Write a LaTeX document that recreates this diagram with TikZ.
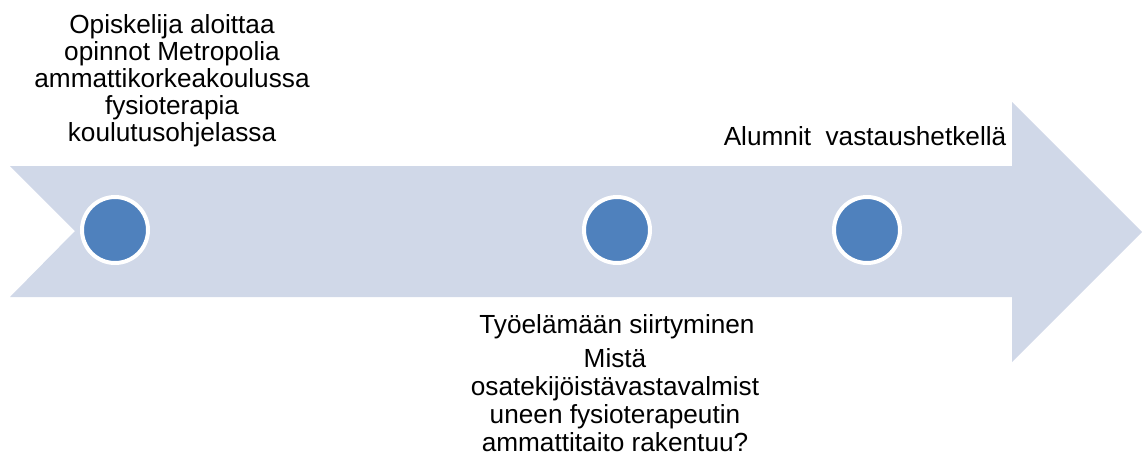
\documentclass[tikz,border=0pt]{standalone}
\usepackage{fontspec}
\setmainfont{Liberation Sans}
\definecolor{arrowfill}{HTML}{D0D8E8}
\definecolor{dotblue}{HTML}{4F81BD}
\tikzset{
  dot/.style={circle, fill=dotblue, draw=white, line width=4pt, minimum size=66pt, inner sep=0pt},
  lbl/.style={anchor=north, inner sep=0pt, align=center, font=\fontsize{26.2}{27}\selectfont},
  lblb/.style={anchor=north, inner sep=0pt, align=center, font=\fontsize{26.2}{28}\selectfont}
}
\begin{document}
\begin{tikzpicture}[x=1pt,y=-1pt]
\useasboundingbox (0,0) rectangle (1142,459);
\fill[arrowfill] (10,166) -- (1012,166) -- (1012,102) -- (1142,232) -- (1012,362) -- (1012,297) -- (10,297) -- (75,231) -- cycle;
\node[dot] (d1) at (115,230) {};
\node[dot] (d2) at (617,230) {};
\node[dot] (d3) at (867,230) {};
\node[lbl] (t1) at (172,14) {Opiskelija aloittaa\\opinnot Metropolia\\ammattikorkeakoulussa\\fysioterapia\\koulutusohjelassa};
\node[lbl] (t2) at (865,126) {Alumnit\ \ vastaushetkellä};
\node[lbl] (t3) at (617,314) {Työelämään siirtyminen};
\node[lblb] (t4) at (615,348) {Mistä\\osatekijöistävastavalmist\\uneen fysioterapeutin\\ammattitaito rakentuu?};
\end{tikzpicture}
\end{document}
